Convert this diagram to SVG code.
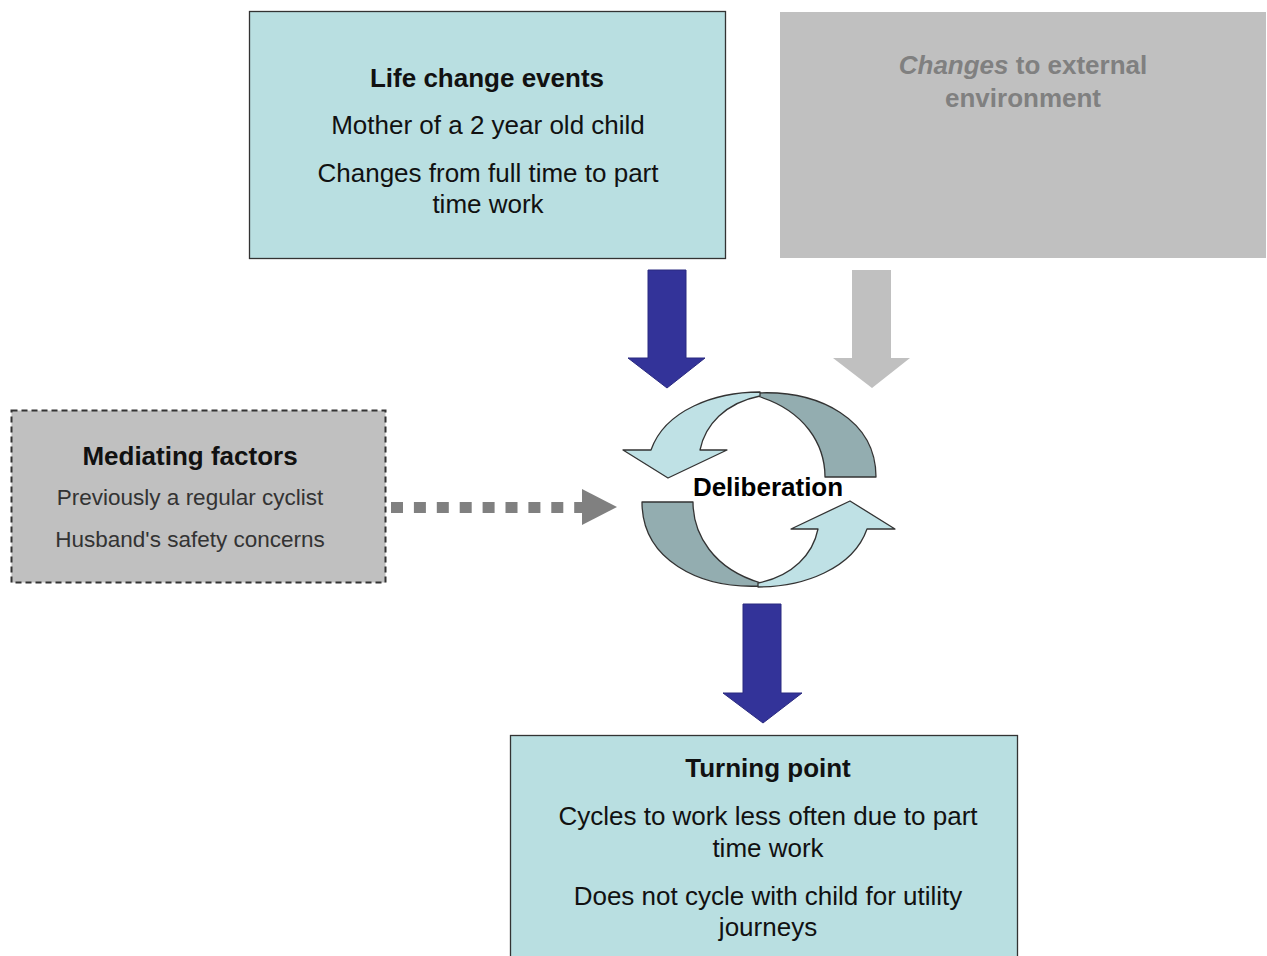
<svg xmlns="http://www.w3.org/2000/svg" width="1267" height="956" viewBox="0 0 1267 956">
<style>
text{font-family:"Liberation Sans",Arial,sans-serif;text-anchor:middle}
.h{font-weight:bold;font-size:26px;fill:#111}
.t{font-size:26px;fill:#111}
.s{font-size:22.5px;fill:#333}
.g{font-weight:bold;font-size:26px;fill:#808080}
.tb{fill:#b9dfe1;stroke:#333;stroke-width:1.3}
.light{fill:#bfe1e5;stroke:#333;stroke-width:1.3;stroke-linejoin:round}
.dark{fill:#93adb0;stroke:#333;stroke-width:1.3;stroke-linejoin:round}
</style>
<rect width="1267" height="956" fill="#fff"/>
<g id="life-change-events">
<rect class="tb" x="249.5" y="11.5" width="476" height="247"/>
<text class="h" x="487" y="87">Life change events</text>
<text class="t" x="488" y="134">Mother of a 2 year old child</text>
<text class="t" x="488" y="182">Changes from full time to part</text>
<text class="t" x="488" y="213">time work</text>
</g>
<g id="external-environment">
<rect x="780" y="12" width="486" height="246" fill="#c0c0c0"/>
<text class="g" x="1023" y="74"><tspan font-style="italic">Changes</tspan> to external</text>
<text class="g" x="1023" y="107">environment</text>
</g>
<g id="mediating-factors">
<rect x="11.5" y="410.5" width="374" height="172" fill="#c0c0c0" stroke="#333" stroke-width="2" stroke-dasharray="6 4"/>
<text class="h" x="190" y="465">Mediating factors</text>
<text class="s" x="190" y="505">Previously a regular cyclist</text>
<text class="s" x="190" y="547">Husband's safety concerns</text>
</g>
<g id="deliberation">
<path class="dark" d="M757,393 C820,390 876,420 876,477 L825,477 C825,445 805,410 757,396 Z"/>
<path class="light" d="M760,392 C715,392 665,410 651,450 L623,450 L668,478 L727,450 L700,450 C705,425 725,403 760,396 Z"/>
<g transform="rotate(180 759 489.5)">
<path class="dark" d="M757,393 C820,390 876,420 876,477 L825,477 C825,445 805,410 757,396 Z"/>
<path class="light" d="M760,392 C715,392 665,410 651,450 L623,450 L668,478 L727,450 L700,450 C705,425 725,403 760,396 Z"/>
</g>
<text x="768" y="496" style="font-weight:bold;font-size:26px;fill:#000">Deliberation</text>
</g>
<g id="turning-point">
<rect class="tb" x="510.5" y="735.5" width="507" height="230"/>
<text class="h" x="768" y="777">Turning point</text>
<text class="t" x="768" y="825">Cycles to work less often due to part</text>
<text class="t" x="768" y="857">time work</text>
<text class="t" x="768" y="905">Does not cycle with child for utility</text>
<text class="t" x="768" y="936">journeys</text>
</g>
<g id="connectors">
<polygon points="648,270 686,270 686,358 705,358 667,388 628,358 648,358" fill="#333399" stroke="#2a2a80" stroke-width="1"/>
<polygon points="852,270 891,270 891,358 910,358 872,388 833,358 852,358" fill="#c0c0c0"/>
<line x1="391" y1="507.5" x2="583" y2="507.5" stroke="#808080" stroke-width="11" stroke-dasharray="12 10.9"/>
<polygon points="582,489 617,507 582,525" fill="#808080"/>
<polygon points="743,604 781,604 781,693 802,693 763,723 723,693 743,693" fill="#333399" stroke="#2a2a80" stroke-width="1"/>
</g>
</svg>
